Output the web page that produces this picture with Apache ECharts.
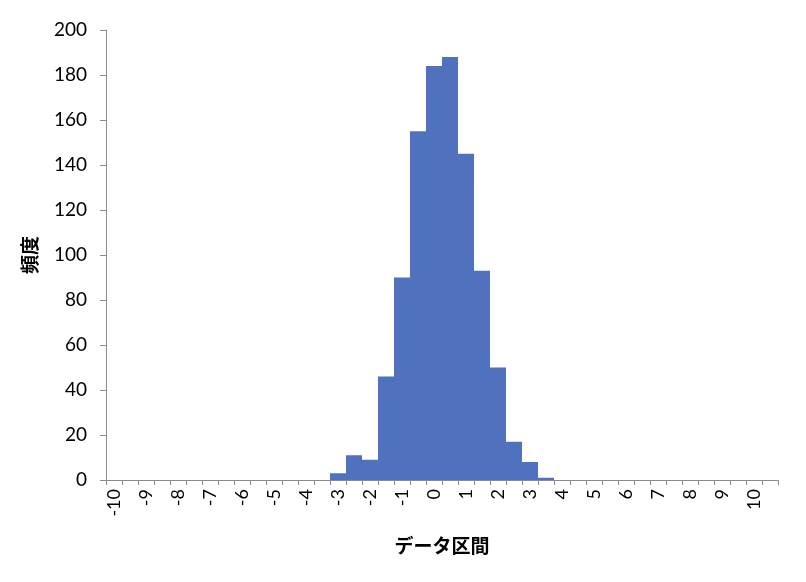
<!DOCTYPE html>
<html>
<head>
<meta charset="utf-8">
<style>
html, body { margin: 0; padding: 0; background: #fff; }
#chart-panel { width: 806px; height: 582px; }
</style>
<script src="https://cdn.jsdelivr.net/npm/echarts@6/dist/echarts.min.js"></script>
</head>
<body>
<div id="chart-panel"></div>
<script type="text/javascript">
// 区間 (-10 ～ 10.5, 0.5刻み)
var bins = [];
for (var i = 0; i < 42; i++) { bins.push(String(-10 + i * 0.5)); }

// 頻度
var freq = [0, 0, 0, 0, 0, 0, 0, 0, 0, 0,
            0, 0, 0, 0, 3, 11, 9, 46, 90, 155,
            184, 188, 145, 93, 50, 17, 8, 1, 0, 0,
            0, 0, 0, 0, 0, 0, 0, 0, 0, 0,
            0, 0];

var yTicks = { min: 0, max: 200, interval: 20 };

var myChart = echarts.init(document.getElementById('chart-panel'));
var axisGray = '#8c8c8c';
var barBlue = '#4F71BE';
var font = 'Lato, "Open Sans", "Noto Sans CJK JP", sans-serif';

var option = {
    animation: false,
    // 横幅 672px = 42区間 x 16px
    grid: { left: 106, right: 28, top: 30, bottom: 102, containLabel: false },
    xAxis: {
        type: 'category',
        data: bins,
        name: 'データ区間',
        nameLocation: 'middle',
        nameGap: 56,
        nameTextStyle: { color: '#000', fontSize: 19, fontWeight: 'bold', fontFamily: '"Noto Sans CJK JP", sans-serif' },
        axisLine: { lineStyle: { color: axisGray } },
        axisTick: { show: true, length: 5, alignWithLabel: false, interval: 0, lineStyle: { color: axisGray } },
        axisLabel: {
            interval: 1,
            rotate: 90,
            margin: 9,
            color: '#000',
            fontSize: 18,
            fontFamily: font
        },
        splitLine: { show: false }
    },
    yAxis: {
        type: 'value',
        min: yTicks.min,
        max: yTicks.max,
        interval: yTicks.interval,
        name: '頻度',
        nameLocation: 'middle',
        nameGap: 67,
        nameRotate: 90,
        nameTextStyle: { color: '#000', fontSize: 19, fontWeight: 'bold', fontFamily: '"Noto Sans CJK JP", sans-serif' },
        axisLine: { show: true, lineStyle: { color: axisGray } },
        axisTick: { show: true, length: 6, lineStyle: { color: axisGray } },
        axisLabel: { color: '#000', fontSize: 19, margin: 19, fontFamily: font },
        splitLine: { show: false }
    },
    series: [{
        type: 'bar',
        data: freq,
        barCategoryGap: 0,
        itemStyle: { color: barBlue }
    }]
};
myChart.setOption(option);
</script>
</body>
</html>
